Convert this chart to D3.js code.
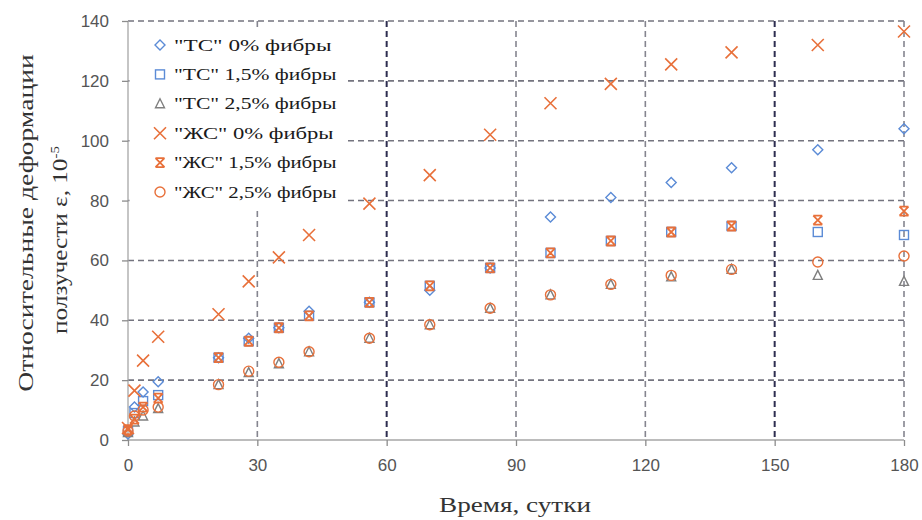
<!DOCTYPE html>
<html><head><meta charset="utf-8">
<script src="https://cdn.jsdelivr.net/npm/d3@7"></script>
<style>body{margin:0;background:#fff}svg{display:block}</style>
</head><body>
<svg id="c" width="922" height="520"></svg>
<script>
const days = [0, 1.5, 3.5, 7, 21, 28, 35, 42, 56, 70, 84, 98, 112, 126, 140, 160, 180];
const tc0  = [2, 11, 16, 19.5, 27.5, 34, 37.5, 43, 46, 50, 57.5, 74.5, 81, 86, 91, 97, 104];
const tc15 = [3, 9, 13, 15, 27.5, 33, 37.5, 41.5, 46, 51.5, 57.5, 62.5, 66.5, 69.5, 71.5, 69.5, 68.5];
const tc25 = [2.5, 6, 8, 10.5, 18.5, 22.5, 25.5, 29.5, 34, 38.5, 44, 48.5, 52, 54.5, 57, 55, 53];
const zs0  = [4, 16.5, 26.5, 34.5, 42, 53, 61, 68.5, 79, 88.5, 102, 112.5, 119, 125.5, 129.5, 132, 136.5];
const zs15 = [3.5, 7, 11, 14, 27.5, 33, 37.5, 41.5, 46, 51.5, 57.5, 62.5, 66.5, 69.5, 71.5, 73.5, 76.5];
const zs25 = [3, 8, 10, 11, 18.5, 23, 26, 29.5, 34, 38.5, 44, 48.5, 52, 55, 57, 59.5, 61.5];
const seriesNames = ['"ТС" 0% фибры', '"ТС" 1,5% фибры', '"ТС" 2,5% фибры', '"ЖС" 0% фибры', '"ЖС" 1,5% фибры', '"ЖС" 2,5% фибры'];
const xTicks = [0, 30, 60, 90, 120, 150, 180];
const yTicks = [0, 20, 40, 60, 80, 100, 120, 140];

const series = [
  {name: seriesNames[0], vals: tc0,  shape: 'diamond', color: '#5b8bd6'},
  {name: seriesNames[1], vals: tc15, shape: 'square',  color: '#5b8bd6'},
  {name: seriesNames[2], vals: tc25, shape: 'triangle',color: '#808080'},
  {name: seriesNames[3], vals: zs0,  shape: 'x',       color: '#e8703a'},
  {name: seriesNames[4], vals: zs15, shape: 'xbar',    color: '#e8703a'},
  {name: seriesNames[5], vals: zs25, shape: 'circle',  color: '#e8703a'}
];

const svg = d3.select('#c');
const L = 128, R = 904, T = 21, B = 440;
const x = d3.scaleLinear().domain([0, 180]).range([L, R]);
const y = d3.scaleLinear().domain([0, 140]).range([B, T]);
const SERIF = 'Liberation Serif, Times New Roman, serif';

// gridlines
const g = svg.append('g');
yTicks.filter(v => v > 0).forEach(v => {
  g.append('line').attr('x1', L).attr('x2', R).attr('y1', y(v)).attr('y2', y(v))
    .attr('stroke', '#74747f').attr('stroke-width', 1.6).attr('stroke-dasharray', '6,4');
});
xTicks.filter(v => v > 0).forEach(v => {
  const dark = (v === 60 || v === 150);
  g.append('line').attr('x1', x(v)).attr('x2', x(v)).attr('y1', T).attr('y2', B)
    .attr('stroke', dark ? '#2e2e50' : '#85858f').attr('stroke-width', dark ? 2 : 1.6)
    .attr('stroke-dasharray', '6,4');
});

// axes
const yAxis = d3.axisLeft(y).tickValues(yTicks).tickSize(6).tickPadding(13);
const xAxis = d3.axisBottom(x).tickValues(xTicks).tickSize(6).tickPadding(13);
const ya = svg.append('g').attr('transform', `translate(${L},0)`).call(yAxis);
const xa = svg.append('g').attr('transform', `translate(0,${B})`).call(xAxis);
[ya, xa].forEach(a => {
  a.select('.domain').attr('stroke', '#a6a6a6').attr('stroke-width', 1.3);
  a.selectAll('.tick line').attr('stroke', '#8c8c8c').attr('stroke-width', 1.3);
  a.selectAll('.tick text').attr('fill', '#555').attr('font-family', 'Liberation Sans, Arial, sans-serif').attr('font-size', 17);
});
xa.select('.domain').attr('d', `M${L},0H${R}`);
ya.select('.domain').attr('d', `M0,${B}V${T}`);

// markers
function drawMarker(sel, shape, color, cx, cy) {
  const s = 5;
  const common = el => el.attr('fill', 'none').attr('stroke', color).attr('stroke-width', 1.4);
  if (shape === 'diamond') {
    common(sel.append('path').attr('d', `M${cx},${cy - s}L${cx + s},${cy}L${cx},${cy + s}L${cx - s},${cy}Z`));
  } else if (shape === 'square') {
    common(sel.append('rect').attr('x', cx - 4.5).attr('y', cy - 4.5).attr('width', 9).attr('height', 9));
  } else if (shape === 'triangle') {
    common(sel.append('path').attr('d', `M${cx},${cy - 5}L${cx + 4.5},${cy + 4}L${cx - 4.5},${cy + 4}Z`));
  } else if (shape === 'circle') {
    common(sel.append('circle').attr('cx', cx).attr('cy', cy).attr('r', 5));
  } else if (shape === 'x') {
    common(sel.append('path').attr('d', `M${cx - 6},${cy - 6}L${cx + 6},${cy + 6}M${cx - 6},${cy + 6}L${cx + 6},${cy - 6}`)).attr('stroke-width', 1.6);
  } else if (shape === 'xbar') {
    common(sel.append('path').attr('d', `M${cx - 4.5},${cy - 4.5}L${cx + 4.5},${cy + 4.5}M${cx - 4.5},${cy + 4.5}L${cx + 4.5},${cy - 4.5}M${cx - 4.5},${cy - 4.5}H${cx + 4.5}M${cx - 4.5},${cy + 4.5}H${cx + 4.5}`)).attr('stroke-width', 1.8);
  }
}

const plot = svg.append('g');
series.forEach(s => {
  const sg = plot.append('g').attr('class', 'series');
  days.forEach((d, i) => drawMarker(sg, s.shape, s.color, x(d), y(s.vals[i])));
});

// stretch a text element along its baseline to a target width
function fitWidth(textSel, target, tx, ty, rot) {
  const w = textSel.node().getBBox().width;
  const k = target / w;
  textSel.attr('transform', `translate(${tx},${ty}) rotate(${rot}) scale(${k},1)`);
}

// legend (white box)
const lg = svg.append('g');
lg.append('rect').attr('x', L + 1.5).attr('y', 29).attr('width', 216).attr('height', 178).attr('fill', '#fff');
const legW = [158, 163, 163, 160, 163, 163];
series.forEach((s, i) => {
  const ly = 45 + i * 29.4;
  drawMarker(lg, s.shape, s.color, 160, ly);
  const t = lg.append('text').attr('x', 0).attr('y', 0).text(s.name)
    .attr('font-family', SERIF).attr('font-size', 16).attr('fill', '#1a1a1a');
  fitWidth(t, legW[i], 174, ly + 5.5, 0);
});

// axis titles
const xt = svg.append('text').attr('text-anchor', 'middle')
  .attr('font-family', SERIF).attr('font-size', 21).attr('fill', '#333')
  .text('Время, сутки');
fitWidth(xt, 152, 515, 512, 0);

const yt1 = svg.append('text').attr('text-anchor', 'middle')
  .attr('font-family', SERIF).attr('font-size', 22).attr('fill', '#333')
  .text('Относительные деформации');
fitWidth(yt1, 338, 33, 223, -90);
const yt2 = svg.append('text').attr('text-anchor', 'middle')
  .attr('font-family', SERIF).attr('font-size', 22).attr('fill', '#333');
yt2.append('tspan').text('ползучести ε, 10');
yt2.append('tspan').attr('dy', -8).attr('font-size', 13).text('-5');
fitWidth(yt2, 188, 67, 240, -90);
</script>
</body></html>
